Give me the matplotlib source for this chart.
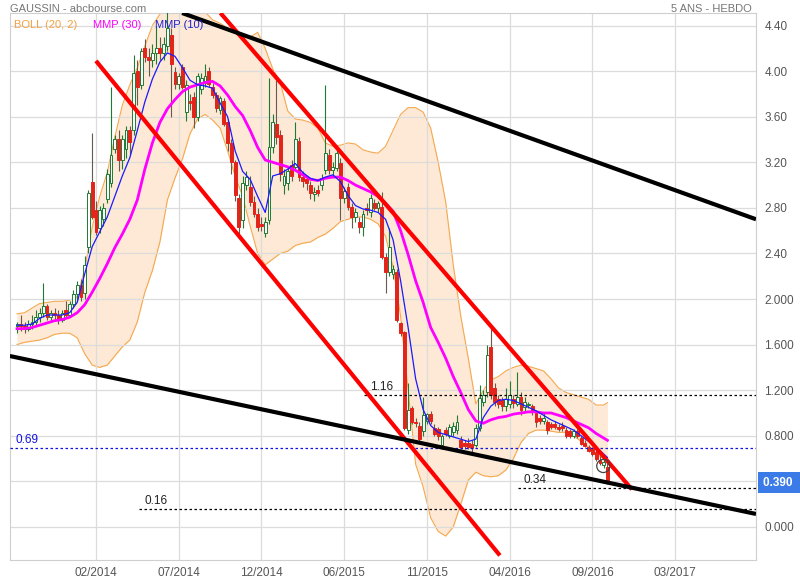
import matplotlib
matplotlib.use('Agg')
import matplotlib.pyplot as plt
import matplotlib.transforms as mtransforms
from matplotlib.patches import Ellipse

plt.rcParams['font.family'] = ['Liberation Sans', 'DejaVu Sans']

# weekly candles, index = week number (first bar ~ Sept 2013)
opens = [1.76, 1.78, 1.76, 1.74, 1.78, 1.80, 1.84, 1.88, 1.94, 1.84,
         1.88, 1.86, 1.82, 1.90, 1.86, 1.96, 2.04, 2.12, 2.05, 2.46,
         3.03, 2.78, 2.62, 2.70, 2.88, 3.02, 3.32, 3.40, 3.22, 3.32,
         3.48, 3.48, 4.00, 3.88, 4.20, 4.12, 4.10, 4.16, 4.20, 4.16,
         4.22, 4.32, 3.99, 3.89, 4.04, 3.64, 3.74, 3.77, 3.60, 3.84,
         3.90, 4.00, 3.86, 3.79, 3.66, 3.74, 3.55, 3.37, 3.20, 2.89,
         2.69, 3.00, 2.98, 2.85, 2.75, 2.66, 2.58, 2.69, 3.33, 3.54,
         3.44, 3.00, 3.02, 3.18, 3.16, 3.39, 3.07, 3.05, 3.00, 2.92,
         2.96, 3.00, 3.13, 3.26, 3.13, 3.15, 3.19, 2.89, 2.98, 2.81,
         2.72, 2.68, 2.63, 2.80, 2.76, 2.84, 2.80, 2.81, 2.37, 2.24,
         2.22, 2.24, 1.79, 1.71, 0.85, 1.04, 0.92, 0.89, 0.84, 0.93,
         0.99, 0.87, 0.86, 0.72, 0.85, 0.80, 0.83, 0.85, 0.76, 0.74,
         0.74, 0.73, 0.72, 0.87, 1.10, 1.18, 1.58, 1.22, 1.12, 1.11,
         1.06, 1.08, 1.12, 1.08, 1.14, 1.05, 1.07, 1.06, 1.00, 0.96,
         0.93, 0.92, 0.90, 0.90, 0.88, 0.89, 0.85, 0.84, 0.80, 0.84,
         0.78, 0.74, 0.70, 0.69, 0.66, 0.59, 0.54, 0.53]
highs = [1.80, 1.86, 1.80, 1.82, 1.86, 1.90, 1.92, 2.14, 1.96, 1.90,
         1.92, 1.90, 1.90, 1.98, 1.98, 2.08, 2.16, 2.18, 2.38, 2.96,
         3.46, 2.86, 2.82, 2.84, 3.14, 3.86, 3.44, 3.48, 3.44, 3.52,
         3.52, 4.14, 4.10, 4.20, 4.28, 4.20, 4.24, 4.40, 4.30, 4.30,
         4.52, 4.38, 4.04, 3.98, 4.06, 3.92, 3.80, 3.82, 3.98, 3.98,
         4.06, 4.04, 3.90, 3.82, 3.78, 3.76, 3.58, 3.40, 3.22, 2.92,
         3.08, 3.12, 3.08, 2.90, 2.80, 2.72, 2.72, 3.94, 3.62, 3.92,
         3.48, 3.14, 3.16, 3.22, 3.55, 3.42, 3.12, 3.08, 3.04, 2.98,
         3.00, 3.10, 3.88, 3.32, 3.20, 3.32, 3.24, 2.98, 3.02, 2.84,
         2.80, 2.72, 2.78, 2.84, 2.92, 2.88, 2.86, 2.94, 2.40, 2.62,
         2.30, 2.26, 1.80, 1.72, 1.26, 1.06, 0.96, 0.92, 1.14, 1.00,
         1.02, 0.90, 0.88, 0.82, 0.88, 0.90, 0.92, 0.98, 0.80, 0.76,
         0.78, 0.76, 0.90, 1.25, 1.20, 1.60, 1.75, 1.26, 1.16, 1.14,
         1.22, 1.28, 1.16, 1.36, 1.18, 1.14, 1.10, 1.08, 1.02, 0.98,
         1.00, 0.94, 0.92, 0.93, 0.90, 0.92, 0.88, 0.86, 0.86, 0.86,
         0.80, 0.76, 0.72, 0.70, 0.68, 0.62, 0.60, 0.56]
lows = [1.70, 1.72, 1.70, 1.72, 1.74, 1.76, 1.80, 1.84, 1.82, 1.80,
        1.82, 1.78, 1.80, 1.84, 1.84, 1.92, 1.98, 1.98, 2.00, 2.40,
        2.70, 2.56, 2.58, 2.64, 2.84, 2.98, 3.28, 3.12, 3.14, 3.24,
        3.26, 3.44, 3.70, 3.84, 4.08, 3.96, 4.04, 4.06, 4.10, 4.10,
        4.18, 3.60, 3.84, 3.84, 3.84, 3.56, 3.66, 3.50, 3.56, 3.80,
        3.86, 3.86, 3.76, 3.64, 3.62, 3.52, 3.30, 3.10, 2.86, 2.56,
        2.62, 2.96, 2.82, 2.72, 2.60, 2.60, 2.54, 2.66, 3.28, 3.36,
        3.04, 2.92, 2.96, 3.04, 3.14, 3.04, 2.98, 2.96, 2.88, 2.86,
        2.90, 2.96, 3.10, 3.10, 3.08, 3.12, 2.69, 2.84, 2.78, 2.62,
        2.68, 2.58, 2.55, 2.74, 2.72, 2.78, 2.76, 2.35, 2.05, 2.20,
        2.18, 1.80, 1.68, 0.85, 0.82, 0.90, 0.88, 0.74, 0.80, 0.90,
        0.90, 0.80, 0.76, 0.68, 0.80, 0.78, 0.80, 0.82, 0.68, 0.68,
        0.68, 0.66, 0.70, 0.84, 1.06, 1.14, 1.12, 1.06, 1.04, 1.02,
        1.02, 1.04, 1.04, 1.06, 0.98, 1.02, 1.04, 0.98, 0.88, 0.90,
        0.90, 0.82, 0.86, 0.86, 0.84, 0.84, 0.78, 0.78, 0.78, 0.78,
        0.72, 0.70, 0.66, 0.62, 0.58, 0.54, 0.52, 0.38]
closes = [1.78, 1.76, 1.74, 1.78, 1.80, 1.84, 1.88, 1.94, 1.84, 1.88,
          1.86, 1.82, 1.88, 1.86, 1.96, 2.04, 2.12, 2.02, 2.30, 2.93,
          2.72, 2.59, 2.78, 2.80, 3.10, 3.26, 3.40, 3.22, 3.40, 3.48,
          3.38, 3.98, 3.86, 4.18, 4.12, 4.10, 4.16, 4.20, 4.16, 4.24,
          4.38, 4.06, 3.89, 3.96, 3.86, 3.88, 3.72, 3.60, 3.96, 3.94,
          3.96, 3.89, 3.79, 3.68, 3.76, 3.54, 3.37, 3.20, 2.91, 2.63,
          3.02, 3.07, 2.85, 2.75, 2.63, 2.64, 2.68, 3.33, 3.55, 3.42,
          3.10, 3.08, 3.12, 3.08, 3.40, 3.07, 3.04, 3.02, 2.93, 2.94,
          2.93, 3.06, 3.28, 3.13, 3.16, 3.28, 2.89, 2.95, 2.81, 2.72,
          2.76, 2.63, 2.75, 2.78, 2.89, 2.80, 2.84, 2.37, 2.24, 2.46,
          2.26, 1.82, 1.70, 0.87, 1.03, 0.92, 0.91, 0.77, 0.98, 0.99,
          0.93, 0.82, 0.80, 0.80, 0.82, 0.88, 0.89, 0.92, 0.70, 0.71,
          0.70, 0.69, 0.87, 1.13, 1.16, 1.51, 1.16, 1.10, 1.08, 1.06,
          1.12, 1.16, 1.09, 1.14, 1.03, 1.10, 1.08, 1.02, 0.92, 0.93,
          0.96, 0.85, 0.88, 0.88, 0.86, 0.87, 0.80, 0.80, 0.84, 0.80,
          0.73, 0.71, 0.67, 0.64, 0.60, 0.56, 0.57, 0.39]

# indicators every 2 weeks
ind_weeks = list(range(0, 157, 2)) + [157]
mmp30 = [1.74, 1.74, 1.75, 1.77, 1.79, 1.81, 1.82, 1.84, 1.88, 1.95,
         2.06, 2.18, 2.31, 2.45, 2.57, 2.70, 2.87, 3.14, 3.37, 3.55,
         3.67, 3.75, 3.82, 3.86, 3.88, 3.90, 3.91, 3.87, 3.79, 3.69,
         3.61, 3.48, 3.33, 3.22, 3.20, 3.18, 3.16, 3.13, 3.09, 3.05,
         3.04, 3.06, 3.07, 3.07, 3.04, 3.00, 2.97, 2.94, 2.90, 2.84,
         2.77, 2.60, 2.39, 2.16, 1.97, 1.75, 1.62, 1.48, 1.32, 1.18,
         1.03, 0.93, 0.91, 0.94, 0.96, 0.97, 0.99, 1.00, 1.01, 1.01,
         1.00, 1.00, 0.98, 0.96, 0.93, 0.90, 0.87, 0.82, 0.78, 0.76]
mmp10 = [1.77, 1.77, 1.78, 1.83, 1.86, 1.86, 1.86, 1.88, 1.97, 2.22,
         2.46, 2.59, 2.72, 2.90, 3.08, 3.24, 3.48, 3.73, 3.93, 4.08,
         4.16, 4.13, 4.03, 3.92, 3.88, 3.87, 3.85, 3.72, 3.60, 3.30,
         3.12, 3.05, 2.90, 2.76, 3.08, 3.10, 3.14, 3.19, 3.11, 3.06,
         3.04, 3.07, 3.09, 3.03, 2.91, 2.82, 2.79, 2.78, 2.76, 2.70,
         2.52, 2.16, 1.75, 1.30, 1.03, 0.89, 0.83, 0.81, 0.79, 0.77,
         0.75, 0.77, 0.96, 1.06, 1.11, 1.12, 1.11, 1.08, 1.05, 1.02,
         0.98, 0.94, 0.91, 0.88, 0.85, 0.80, 0.75, 0.70, 0.64, 0.61]
boll_up = [1.87, 1.88, 1.92, 1.96, 1.97, 1.98, 1.98, 1.99, 2.02, 2.26,
           2.63, 2.90, 3.11, 3.42, 3.70, 3.88, 4.03, 4.22, 4.40, 4.50,
           4.58, 4.62, 4.62, 4.60, 4.56, 4.52, 4.45, 4.42, 4.38, 4.35,
           4.33, 4.30, 4.34, 4.20, 4.02, 3.90, 3.65, 3.58, 3.57, 3.55,
           3.50, 3.37, 3.34, 3.35, 3.37, 3.36, 3.31, 3.29, 3.28, 3.34,
           3.48, 3.62, 3.68, 3.68, 3.64, 3.50, 3.20, 2.85, 2.30, 1.85,
           1.48, 1.08, 1.20, 1.29, 1.32, 1.37, 1.40, 1.42, 1.41, 1.39,
           1.37, 1.30, 1.22, 1.18, 1.16, 1.14, 1.12, 1.07, 1.07, 1.09]
boll_low = [1.60, 1.62, 1.63, 1.64, 1.66, 1.69, 1.70, 1.70, 1.66, 1.52,
            1.42, 1.40, 1.42, 1.50, 1.58, 1.64, 1.80, 2.06, 2.25, 2.50,
            2.87, 3.06, 3.23, 3.45, 3.58, 3.62, 3.57, 3.50, 3.30, 3.08,
            2.90, 2.64, 2.40, 2.30, 2.35, 2.40, 2.42, 2.47, 2.49, 2.50,
            2.54, 2.57, 2.62, 2.68, 2.70, 2.72, 2.72, 2.70, 2.66, 2.55,
            2.28, 1.85, 1.20, 0.55, 0.35, 0.08, -0.04, -0.08, 0.00, 0.20,
            0.41, 0.48, 0.45, 0.44, 0.45, 0.50, 0.60, 0.74, 0.82, 0.85,
            0.85, 0.84, 0.83, 0.83, 0.80, 0.75, 0.70, 0.64, 0.60, 0.59]

tick_weeks = [21, 43, 65, 87, 109, 131, 153, 175]
tick_labels = ['02/2014', '07/2014', '12/2014', '06/2015',
               '11/2015', '04/2016', '09/2016', '03/2017']
y_ticks = [0.0, 0.4, 0.8, 1.2, 1.6, 2.0, 2.4, 2.8, 3.2, 3.6, 4.0, 4.4]
y_labels = ['0.000', '', '0.800', '1.200', '1.600', '2.000',
            '2.40', '2.80', '3.20', '3.60', '4.00', '4.40']

# hand-drawn trend lines (week, price)
red_lines = [([21.0, 128.4], [4.09, -0.25]), ([54.1, 163.5], [4.51, 0.33])]
black_lines = [([43.9, 196.5], [4.51, 2.70]), ([-1.9, 196.5], [1.50, 0.114])]

levels = [1.16, 0.69, 0.34, 0.16]
level_start = [92.4, -1.86, 133.2, 32.5]
level_colors = ['black', '#1010e0', 'black', 'black']
last_price = 0.39

weeks = list(range(len(closes)))
green = '#1e7b34'
red = '#e3241b'

fig = plt.figure(figsize=(8, 5.8), dpi=100)
ax = fig.add_axes([10 / 800, 1 - 560 / 580, 746 / 800, 547 / 580])
ax.set_xlim(-1.86, 196.5)
ax.set_ylim(-0.29, 4.51)

# bollinger band
ax.fill_between(ind_weeks, boll_low, boll_up, color='#fde9d5', lw=0, zorder=0.3)
ax.plot(ind_weeks, boll_up, color='#f5a84e', lw=0.8, zorder=0.4)
ax.plot(ind_weeks, boll_low, color='#f5a84e', lw=0.8, zorder=0.4)

# candles
up = [c >= o for o, c in zip(opens, closes)]
wick_cols = [green if u else '#6b5a4a' for u in up]
ax.vlines(weeks, lows, highs, colors=wick_cols, lw=0.8, zorder=3)
bottoms = [min(o, c) for o, c in zip(opens, closes)]
heights = [max(abs(c - o), 0.006) for o, c in zip(opens, closes)]
ax.bar(weeks, heights, bottom=bottoms, width=0.75,
       color=['white' if u else red for u in up],
       edgecolor=[green if u else red for u in up], lw=0.7, zorder=3.5)

# moving averages
ax.plot(ind_weeks, mmp30, color='#ff00ff', lw=2.0, zorder=4)
ax.plot(ind_weeks, mmp10, color='#1a1aff', lw=0.9, zorder=4.2)

for xs, ys in red_lines:
    ax.plot(xs, ys, color='#ff0000', lw=3, solid_capstyle='butt', zorder=5)
for xs, ys in black_lines:
    ax.plot(xs, ys, color='black', lw=3, solid_capstyle='butt', zorder=5)

# horizontal levels
for lv, x0, col in zip(levels, level_start, level_colors):
    ax.plot([x0, 196.5], [lv, lv], color=col, lw=0.9, ls=(0, (2, 2)), zorder=4.5)
    ax.annotate(f'{lv:.2f}', xy=(x0, lv), xytext=(4, 1.5), textcoords='offset points',
                ha='left', va='bottom', fontsize=8.5, color=col if col != 'black' else '#222')

ax.add_patch(Ellipse((155.9, 0.535), width=3.5, height=0.115, fill=False,
                     ec='#444444', lw=0.9, zorder=6))

# axes styling
ax.set_xticks(tick_weeks)
ax.set_xticklabels(tick_labels)
ax.set_yticks(y_ticks)
ax.set_yticklabels(y_labels)
ax.yaxis.tick_right()
ax.tick_params(axis='both', length=0, labelsize=8.5, labelcolor='#555555')
ax.tick_params(axis='y', pad=6)
ax.tick_params(axis='x', pad=5)
ax.grid(True, color='#dcdcdc', lw=0.9)
ax.set_axisbelow(True)
for sp in ax.spines.values():
    sp.set_color('#cfcfcf')

trans = mtransforms.blended_transform_factory(ax.transAxes, ax.transData)
ax.text(1.009, last_price, f'{last_price:.3f}  ', transform=trans, ha='left', va='center',
        fontsize=8.5, color='white', fontweight='bold',
        bbox=dict(boxstyle='square,pad=0.4', fc='#3b7be8', ec='none'))

fig.text(10 / 800, 1 - 9 / 580, 'GAUSSIN - abcbourse.com', fontsize=8,
         color='#777777', va='center', ha='left')
fig.text(752 / 800, 1 - 9 / 580, '5 ANS - HEBDO', fontsize=8,
         color='#777777', va='center', ha='right')
fig.text(14 / 800, 1 - 25 / 580, 'BOLL (20, 2)', fontsize=8, color='#f5a040', va='center')
fig.text(93 / 800, 1 - 25 / 580, 'MMP (30)', fontsize=8, color='#ff00ff', va='center')
fig.text(155 / 800, 1 - 25 / 580, 'MMP (10)', fontsize=8, color='#2020d0', va='center')

fig.savefig('out.png', dpi=100)
